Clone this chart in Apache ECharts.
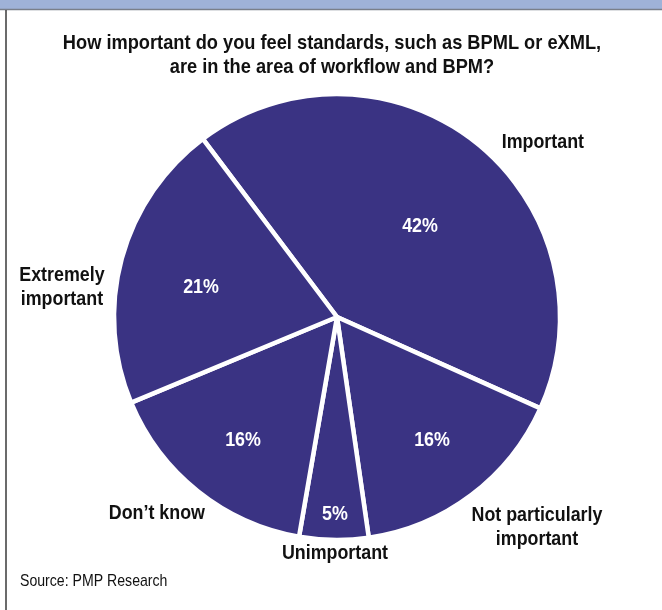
<!DOCTYPE html>
<html>
<head>
<meta charset="utf-8">
<title>Standards in workflow and BPM</title>
<script src="https://cdn.jsdelivr.net/npm/echarts@6/dist/echarts.min.js"></script>
<style>
  html, body { margin: 0; padding: 0; background: #ffffff; }
  #chart { width: 662px; height: 610px; }
</style>
</head>
<body>
<div id="chart"></div>
<script>
// Survey answers and their shares (percent)
const categories = ['Important', 'Not particularly\nimportant', 'Unimportant', "Don\u2019t know", 'Extremely\nimportant'];
const shares = [42, 16, 5, 16, 21];

// Label placement: angular shift from each slice's mid-angle (degrees) and radius as a fraction of the pie radius
const valueLabelShift = [-3.8, 0.7, 0.2, 1.2, 2.8];
const valueLabelRadius = [0.557, 0.703, 0.891, 0.700, 0.630];
const nameLabelShift = [-11.0, 6.6, 0.3, -4.0, 9.0];
const nameLabelRadius = [1.223, 1.312, 1.068, 1.204, 1.252];

const FONT = '"Liberation Sans", Arial, sans-serif';
const NARROW = 0.85;            // horizontal squeeze giving a condensed face
const CX = 337, CY = 317, R = 221, START = 127;
const SLICE = '#3a3383';

const total = shares.reduce((a, b) => a + b, 0);
function midAngle(i) {
  let before = 0;
  for (let k = 0; k < i; k++) before += shares[k];
  return START - (before + shares[i] / 2) / total * 360;
}
function polar(i, shift, ratio) {
  const a = (midAngle(i) + shift) * Math.PI / 180;
  return [CX + Math.cos(a) * R * ratio, CY - Math.sin(a) * R * ratio];
}
function condensedText(x, y, text, size, color, align, scale) {
  return {
    type: 'text', x: x, y: y, scaleX: scale, silent: true, z: 100,
    style: {
      text: text,
      font: 'bold ' + size + 'px ' + FONT,
      fill: color,
      align: align,
      verticalAlign: 'middle',
      lineHeight: 24
    }
  };
}

const data = categories.map((name, i) => ({ name: name, value: shares[i] }));

// Slice labels: percentages inside, answer names outside
const sliceLabels = [];
categories.forEach((name, i) => {
  const v = polar(i, valueLabelShift[i], valueLabelRadius[i]);
  sliceLabels.push(condensedText(v[0], v[1], shares[i] + '%', 21, '#ffffff', 'center', NARROW));
  const n = polar(i, nameLabelShift[i], nameLabelRadius[i]);
  sliceLabels.push(condensedText(n[0], n[1], name, 21, '#111111', 'center', NARROW));
});

const chart = echarts.init(document.getElementById('chart'), null, { renderer: 'canvas' });
chart.setOption({
  animation: false,
  backgroundColor: '#ffffff',
  graphic: [
    { type: 'rect', shape: { x: 0, y: 0, width: 662, height: 9 }, style: { fill: '#9fb2d8' }, silent: true },
    { type: 'line', shape: { x1: 0, y1: 9.5, x2: 662, y2: 9.5 }, style: { stroke: '#7a7f8a', lineWidth: 1.5 }, silent: true },
    { type: 'line', shape: { x1: 6, y1: 10, x2: 6, y2: 610 }, style: { stroke: '#3a3a3a', lineWidth: 1.5 }, silent: true },
    condensedText(332, 55, 'How important do you feel standards, such as BPML or eXML,\nare in the area of workflow and BPM?', 20.5, '#111111', 'center', 0.89),
    {
      type: 'text', x: 20, y: 581, scaleX: 0.83, silent: true,
      style: { text: 'Source: PMP Research', font: '17px ' + FONT, fill: '#111111', align: 'left', verticalAlign: 'middle' }
    }
  ].concat(sliceLabels),
  series: [
    {
      type: 'pie',
      center: [CX, CY],
      radius: [0, R + 2],
      startAngle: START,
      clockwise: true,
      avoidLabelOverlap: false,
      silent: true,
      itemStyle: { color: SLICE, borderColor: '#ffffff', borderWidth: 4.5 },
      label: { show: false },
      labelLine: { show: false },
      data: data
    }
  ]
});
</script>
</body>
</html>
